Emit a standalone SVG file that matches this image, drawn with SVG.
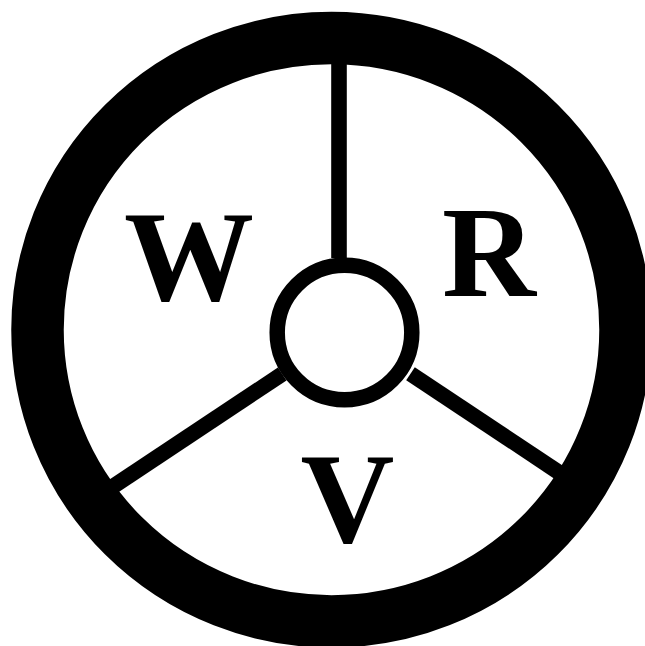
<svg xmlns="http://www.w3.org/2000/svg" width="645" height="646" viewBox="0 0 645 646">
<style>
.ln{stroke:#000;fill:none;stroke-linecap:butt}
.lbl{font-family:"Liberation Serif","Times New Roman",serif;font-weight:bold;font-size:130px;fill:#000;text-anchor:middle}
</style>
<rect width="645" height="646" fill="#fff"/>
<g id="rim"><ellipse cx="331.5" cy="329.7" rx="294" ry="291.7" class="ln" stroke-width="52.5"/></g>
<g id="hub"><circle cx="344.5" cy="332.5" r="67.3" class="ln" stroke-width="15.5"/></g>
<g id="connectors" class="ln" stroke-width="15.6">
<line x1="339" y1="63" x2="339" y2="258"/>
<line x1="282.2" y1="374" x2="113" y2="486.5"/>
<line x1="410.5" y1="373.7" x2="559" y2="472.4"/>
</g>
<g id="W"><text class="lbl" x="189" y="300">W</text></g>
<g id="R"><text class="lbl" x="489" y="295.5">R</text></g>
<g id="V"><text class="lbl" x="347.5" y="542">V</text></g>
</svg>
